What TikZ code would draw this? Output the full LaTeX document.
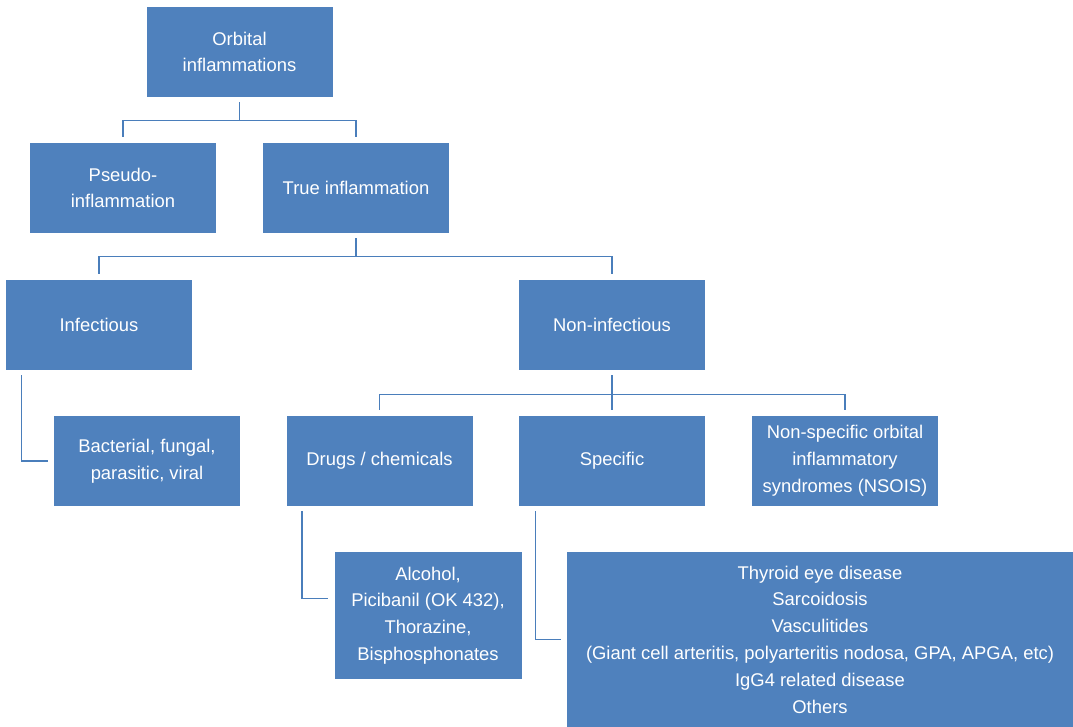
\documentclass[tikz,border=0pt]{standalone}
\usepackage{fontspec}
\setmainfont{Liberation Sans}
\usetikzlibrary{positioning}
\definecolor{oiblue}{HTML}{4F81BD}
\definecolor{oiline}{HTML}{4A7EBB}

\begin{document}
\begin{tikzpicture}[x=0.5pt, y=-0.5pt,
    box/.style={fill=oiblue, text=white, align=center, inner sep=0pt, minimum width=93pt, minimum height=45pt, font=\fontsize{9.2}{13.4}\selectfont},
    link/.style={draw=oiline, line width=0.75pt, shorten <=2.5pt, shorten >=3pt}]
      \useasboundingbox (0,0) rectangle (1073,727);
      % racine
      \node[box] (orb) at (239.5,52) {Orbital\\inflammations};
      % niveau 1
      \node[box] (pseudo) at (123,188) {Pseudo-\\inflammation};
      \node[box] (true) at (356,188) {True inflammation};
      % niveau 2
      \node[box] (infect) at (99,325) {Infectious};
      \node[box] (noninf) at (612,325) {Non-infectious};
      % niveau 3
      \node[box] (bact) at (147,461) {Bacterial, fungal,\\parasitic, viral};
      \node[box] (drugs) at (379.5,461) {Drugs / chemicals};
      \node[box] (specific) at (612,461) {Specific};
      \node[box] (nsois) at (845,461) {Non-specific orbital\\inflammatory\\syndromes (NSOIS)};
      % listes
      \node[box, minimum width=93.5pt, minimum height=63.5pt] (alc) at (428,615.5) {Alcohol,\\Picibanil (OK 432),\\Thorazine,\\Bisphosphonates};
      \node[box, minimum width=253pt, minimum height=87.5pt] (thyroid) at (820,639.5) {Thyroid eye disease\\Sarcoidosis\\Vasculitides\\(Giant cell arteritis, polyarteritis nodosa, GPA, APGA, etc)\\IgG4 related disease\\Others};
      % liaisons
      \draw[link] (orb.south) -- ++(0,23) -| (pseudo.north);
      \draw[link] (orb.south) -- ++(0,23) -| (true.north);
      \draw[link] (true.south) -- ++(0,23) -| (infect.north);
      \draw[link] (true.south) -- ++(0,23) -| (noninf.north);
      \draw[link] (noninf.south) -- ++(0,24) -| (drugs.north);
      \draw[link] (noninf.south) -- (specific.north);
      \draw[link] (noninf.south) -- ++(0,24) -| (nsois.north);
      \draw[link] ([xshift=8pt]infect.south west) |- (bact.west);
      \draw[link] ([xshift=8pt]drugs.south west) |- ([yshift=8.5pt]alc.west);
      \draw[link] ([xshift=8.5pt]specific.south west) |- (thyroid.west);
    \end{tikzpicture}
\end{document}
